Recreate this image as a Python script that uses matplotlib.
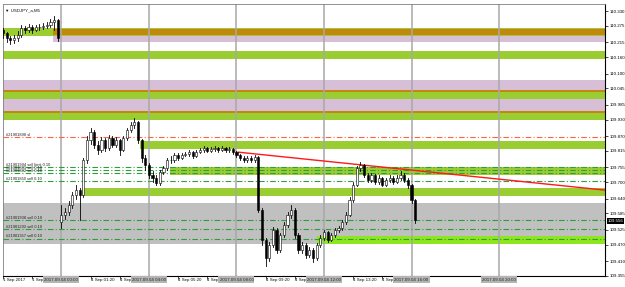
import matplotlib
matplotlib.use("Agg")
import matplotlib.pyplot as plt
from matplotlib.patches import Rectangle

plt.rcParams['font.family'] = ['Liberation Sans', 'DejaVu Sans']

# ---------------- data ----------------
symbol = "\u25BC USDJPY_a,M5"
bar_step = 1/6  # hours per bar (display spacing)

# 1 Sep bars (x in hours, before 4 Sep 00:00 in bar space)
sep1_open0 = 110.260
sep1_close = [110.249, 110.231, 110.223, 110.231, 110.242, 110.267, 110.260, 110.271,
              110.260, 110.271, 110.271, 110.275, 110.279, 110.290, 110.297, 110.231]
sep1_high = [110.267, 110.253, 110.238, 110.242, 110.256, 110.279, 110.275, 110.282,
             110.279, 110.279, 110.282, 110.286, 110.290, 110.301, 110.312, 110.301]
sep1_low = [110.231, 110.216, 110.209, 110.212, 110.220, 110.235, 110.249, 110.253,
            110.249, 110.256, 110.260, 110.264, 110.267, 110.271, 110.260, 110.220]

# 4 Sep bars
sep4_open0 = 109.554
sep4_close = [109.580, 109.591, 109.616, 109.653, 109.671, 109.653, 109.782, 109.855, 109.885, 109.837,
              109.819, 109.855, 109.826, 109.863, 109.837, 109.855, 109.819, 109.863, 109.892, 109.911,
              109.922, 109.855, 109.789, 109.763, 109.727, 109.716, 109.697, 109.738, 109.752, 109.782,
              109.782, 109.800, 109.789, 109.800, 109.804, 109.811, 109.797, 109.811, 109.819, 109.826,
              109.815, 109.822, 109.826, 109.819, 109.826, 109.819, 109.822, 109.811, 109.800, 109.789,
              109.782, 109.789, 109.782, 109.793, 109.598, 109.488, 109.421, 109.469, 109.525, 109.451,
              109.506, 109.543, 109.580, 109.598, 109.506, 109.451, 109.469, 109.432, 109.451, 109.421,
              109.469, 109.495, 109.517, 109.488, 109.506, 109.525, 109.532, 109.554, 109.580, 109.635,
              109.690, 109.752, 109.763, 109.727, 109.708, 109.727, 109.701, 109.716, 109.690, 109.708,
              109.716, 109.701, 109.716, 109.727, 109.708, 109.690, 109.635, 109.561]
sep4_high = [109.616, 109.605, 109.630, 109.665, 109.690, 109.680, 109.790, 109.870, 109.900, 109.892,
             109.850, 109.865, 109.862, 109.875, 109.870, 109.865, 109.860, 109.870, 109.900, 109.920,
             109.936, 109.925, 109.860, 109.800, 109.770, 109.740, 109.725, 109.745, 109.760, 109.790,
             109.795, 109.808, 109.806, 109.808, 109.812, 109.818, 109.815, 109.818, 109.826, 109.832,
             109.830, 109.828, 109.833, 109.830, 109.833, 109.830, 109.828, 109.826, 109.815, 109.805,
             109.795, 109.796, 109.795, 109.800, 109.797, 109.605, 109.495, 109.480, 109.535, 109.530,
             109.515, 109.552, 109.590, 109.616, 109.605, 109.512, 109.480, 109.475, 109.460, 109.458,
             109.478, 109.505, 109.525, 109.522, 109.515, 109.532, 109.540, 109.562, 109.590, 109.645,
             109.700, 109.760, 109.775, 109.768, 109.735, 109.735, 109.732, 109.725, 109.720, 109.715,
             109.725, 109.722, 109.725, 109.740, 109.735, 109.715, 109.695, 109.640]
sep4_low = [109.532, 109.565, 109.580, 109.605, 109.640, 109.561, 109.645, 109.770, 109.840, 109.825,
            109.805, 109.810, 109.815, 109.820, 109.830, 109.830, 109.800, 109.815, 109.855, 109.885,
            109.900, 109.845, 109.775, 109.745, 109.715, 109.700, 109.690, 109.690, 109.730, 109.745,
            109.770, 109.775, 109.780, 109.785, 109.795, 109.798, 109.790, 109.792, 109.806, 109.812,
            109.810, 109.810, 109.816, 109.812, 109.814, 109.812, 109.812, 109.805, 109.792, 109.782,
            109.775, 109.776, 109.775, 109.775, 109.590, 109.470, 109.392, 109.410, 109.460, 109.440,
            109.445, 109.500, 109.535, 109.570, 109.495, 109.440, 109.440, 109.420, 109.425, 109.407,
            109.415, 109.460, 109.488, 109.480, 109.482, 109.500, 109.518, 109.525, 109.548, 109.575,
            109.628, 109.685, 109.740, 109.720, 109.700, 109.702, 109.695, 109.695, 109.685, 109.685,
            109.702, 109.695, 109.698, 109.710, 109.702, 109.680, 109.625, 109.550]

# zones: (x_start_hours or None for left edge, low, high, colour)
zones = [
    (None, 110.238, 110.267, "#9ACD32"),
    (-0.37, 110.242, 110.264, "#C4860F"),
    (-0.37, 110.216, 110.238, "#D8BFD8"),
    (None, 110.153, 110.183, "#9ACD32"),
    (None, 110.039, 110.076, "#D8BFD8"),
    (None, 110.032, 110.039, "#C4860F"),
    (None, 110.006, 110.032, "#9ACD32"),
    (None, 109.962, 110.006, "#D8BFD8"),
    (None, 109.955, 109.962, "#C4860F"),
    (None, 109.929, 109.955, "#9ACD32"),
    (3.6, 109.822, 109.852, "#9ACD32"),
    (4.98, 109.727, 109.756, "#9ACD32"),
    (0.96, 109.649, 109.679, "#9ACD32"),
    (None, 109.473, 109.624, "#C0C0C0"),
    (11.7, 109.473, 109.502, "#8EE61E"),
]

order_prices = [109.866, 109.756, 109.745, 109.734, 109.705, 109.561, 109.528, 109.492]
order_labels = ["#21901898 sl", "#21901994 sell limit 0.10", "#21901891 sell 0.10",
                "#21901892 sell 0.10", "#21901850 sell 0.10", "#21901938 sell 0.10",
                "#21901292 sell 0.10", "#21901357 sell 0.10"]
order_colors = ["#FF6347", "#2E9E3A", "#2E9E3A", "#2E9E3A", "#2E9E3A", "#2E9E3A", "#2E9E3A", "#2E9E3A"]

trend_x = [8.04, 24.84]
trend_y = [109.811, 109.671]

vline_hours = [0, 4, 8, 12, 16, 20]
vline_labels = ["2017.09.04 00:00", "2017.09.04 04:00", "2017.09.04 08:00",
                "2017.09.04 12:00", "2017.09.04 16:00", "2017.09.04 20:00"]

time_tick_hours = [-2.667, -1.333, 1.333, 2.667, 5.333, 6.667, 9.333, 10.667, 13.333, 14.667]
time_tick_labels = ["1 Sep 2017", "1 Sep 22:40", "4 Sep 01:20", "4 Sep 02:40", "4 Sep 05:20",
                    "4 Sep 06:40", "4 Sep 09:20", "4 Sep 10:40", "4 Sep 13:20", "4 Sep 14:40"]

price_ticks = [110.330, 110.275, 110.215, 110.160, 110.100, 110.045, 109.985, 109.930, 109.870,
               109.815, 109.755, 109.700, 109.640, 109.585, 109.525, 109.470, 109.410, 109.355]
last_price = 109.556

# ---------------- figure ----------------
W, H = 625, 287
fig = plt.figure(figsize=(W/100, H/100), dpi=100)
fig.patch.set_facecolor("white")
ax = fig.add_axes([3/W, 11/H, 602/W, 272/H])
xmin, xmax = -2.648, 24.84
ymin, ymax = 109.3551, 110.3558
ax.set_xlim(xmin, xmax)
ax.set_ylim(ymin, ymax)

for xs, lo, hi, col in zones:
    x0 = xmin if xs is None else xs
    ax.add_patch(Rectangle((x0, lo), xmax - x0, hi - lo, facecolor=col, edgecolor="none", zorder=1))

for h in vline_hours:
    ax.axvline(h, color="#A8A8A8", lw=1.1, zorder=2)

for p, lab, col in zip(order_prices, order_labels, order_colors):
    ax.axhline(p, color=col, lw=0.8, ls=(0, (5, 2, 1, 2)), zorder=3)
    ax.text(xmin + 0.1, p + 0.001, lab, fontsize=2.9, color="#222222", va="bottom", ha="left", zorder=6)

ax.plot(trend_x, trend_y, color="#FF1A1A", lw=1.0, zorder=4, solid_capstyle="butt")


def draw_candles(x0, open0, closes, highs, lows):
    o = open0
    for i, (c, hi, lo) in enumerate(zip(closes, highs, lows)):
        x = x0 + i * bar_step
        ax.plot([x, x], [lo, hi], color="black", lw=0.6, zorder=5)
        bw = 0.1
        if c >= o:
            ax.add_patch(Rectangle((x - bw/2, o), bw, max(c - o, 0.0008), facecolor="white",
                                   edgecolor="black", lw=0.4, zorder=5))
        else:
            ax.add_patch(Rectangle((x - bw/2, c), bw, o - c, facecolor="black",
                                   edgecolor="black", lw=0.4, zorder=5))
        o = c


draw_candles(-len(sep1_close) * bar_step, sep1_open0, sep1_close, sep1_high, sep1_low)
draw_candles(0.0, sep4_open0, sep4_close, sep4_high, sep4_low)

# axes styling
for s in ["top", "left"]:
    ax.spines[s].set_color("#808080")
    ax.spines[s].set_linewidth(0.6)
ax.spines["right"].set_linewidth(0.8)
ax.spines["bottom"].set_linewidth(0.8)
ax.yaxis.tick_right()
ax.set_yticks(price_ticks)
ax.set_yticklabels([f"{v:.3f}" for v in price_ticks])
ax.tick_params(axis="y", direction="out", length=2, width=0.5, labelsize=3.2, pad=1)
ax.set_xticks(time_tick_hours)
ax.set_xticklabels([])
ax.tick_params(axis="x", direction="out", length=2, width=0.5)

for h, lab in zip(time_tick_hours, time_tick_labels):
    ax.text(h, ymin - 0.006, lab, fontsize=3.2, ha="left", va="top", color="#111111", clip_on=False)
for h, lab in zip(vline_hours, vline_labels):
    ax.text(h, ymin - 0.006, lab, fontsize=3.2, ha="center", va="top", color="#222222", clip_on=False,
            bbox=dict(boxstyle="square,pad=0.25", facecolor="#B4B4B4", edgecolor="none"), zorder=10)

ax.text(1.004, last_price, f"{last_price:.3f}", transform=ax.get_yaxis_transform(), fontsize=3.2,
        color="white", va="center", ha="left", clip_on=False,
        bbox=dict(boxstyle="square,pad=0.2", facecolor="black", edgecolor="none"), zorder=10)

ax.text(0.004, 0.985, symbol, transform=ax.transAxes, fontsize=3.2, ha="left", va="top", color="#111111", zorder=10)

fig.savefig("out.png", dpi=100, facecolor="white")
